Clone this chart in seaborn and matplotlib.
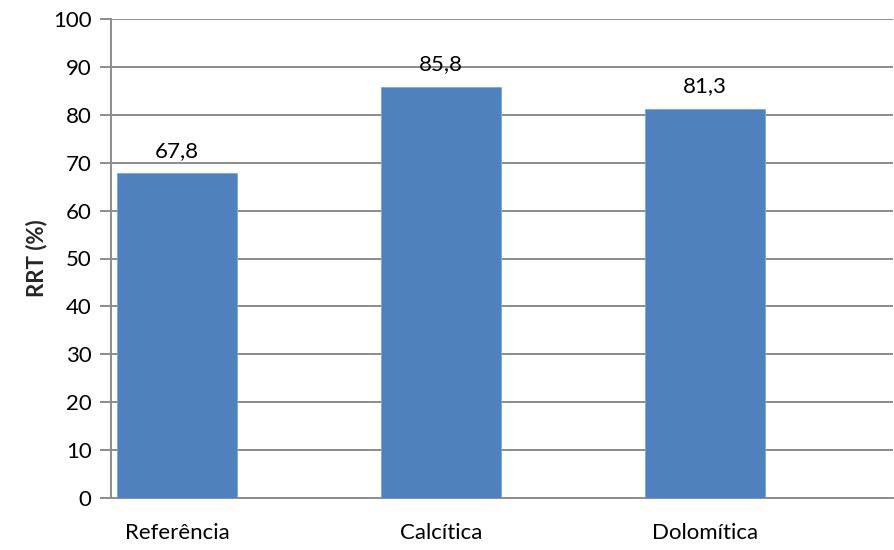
import matplotlib
matplotlib.use("Agg")
import matplotlib.pyplot as plt
import seaborn as sns
import pandas as pd

categories = ["Referência", "Calcítica", "Dolomítica"]
values = [67.8, 85.8, 81.3]
value_labels = ["67,8", "85,8", "81,3"]
y_ticks = [0, 10, 20, 30, 40, 50, 60, 70, 80, 90, 100]

sns.set_theme(style="white")
plt.rcParams["font.family"] = ["Lato", "DejaVu Sans"]

df = pd.DataFrame({"grupo": categories, "rrt": values})

fig = plt.figure(figsize=(8.94, 5.5), dpi=100)
ax = fig.add_axes([111 / 894, 1 - 498 / 550, (893 - 111) / 894, (498 - 19) / 550])

sns.barplot(data=df, x="grupo", y="rrt", color="#4F81BD", saturation=1,
            width=0.455, ax=ax, zorder=3, edgecolor="#7FA6D6", linewidth=0.6)

grid_color = "#8C8C8C"
fs = 16
ax.set_ylim(0, 100)
ax.set_xlim(-0.25, 2.713)
ax.set_yticks(y_ticks)
ax.set_yticklabels([str(t) for t in y_ticks], fontsize=fs, color="black")
for t in y_ticks[1:]:
    ax.axhline(t, color=grid_color, lw=1.4, zorder=1)

for side in ["top", "right"]:
    ax.spines[side].set_visible(False)
for side in ["left", "bottom"]:
    ax.spines[side].set_color(grid_color)
    ax.spines[side].set_linewidth(1.4)

ax.tick_params(axis="y", which="major", length=8, width=1.4, color=grid_color,
               direction="out", left=True, pad=6)
ax.tick_params(axis="x", length=0, labelsize=fs, pad=18, colors="black")
ax.set_xlabel("")
ax.set_ylabel("RRT (%)", fontsize=16, fontweight="bold", labelpad=4)

for bar, lab in zip(ax.patches, value_labels):
    ax.annotate(lab, (bar.get_x() + bar.get_width() / 2, bar.get_height()),
                xytext=(0, 9), textcoords="offset points",
                ha="center", va="bottom", fontsize=fs, color="black")

fig.savefig("out.png", dpi=100)
